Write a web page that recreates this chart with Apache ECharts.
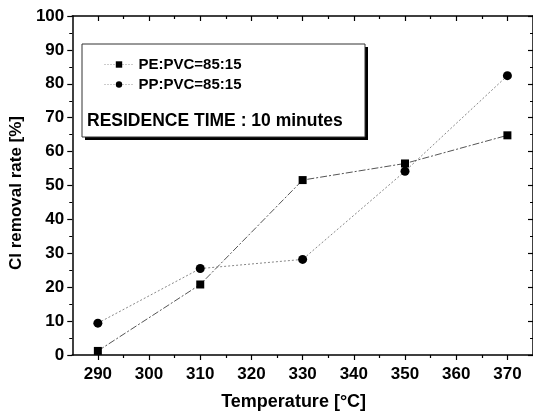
<!DOCTYPE html>
<html>
<head>
<meta charset="utf-8">
<script src="https://cdn.jsdelivr.net/npm/echarts@6/dist/echarts.min.js"></script>
<style>html,body{margin:0;padding:0;background:#fff;}#c{width:533px;height:416px;}</style>
</head>
<body>
<div id="c"></div>
<script>
var temperatures = [290, 310, 330, 350, 370];
var pePvc = [1.2, 20.8, 51.6, 56.5, 64.8];
var ppPvc = [9.4, 25.5, 28.2, 54.2, 82.4];
var xMajorTicks = [290, 300, 310, 320, 330, 340, 350, 360, 370];
var xMinorTicks = [295, 305, 315, 325, 335, 345, 355, 365];
var seriesNames = ['PE:PVC=85:15', 'PP:PVC=85:15'];
var noteText = 'RESIDENCE TIME : 10 minutes';

var FONT = 'Liberation Sans, Arial, sans-serif';
var chart = echarts.init(document.getElementById('c'));

function pairs(xs, ys) { return xs.map(function (x, i) { return [x, ys[i]]; }); }

var grid = { left: 71, top: 16, width: 464, height: 341 };
var lineBlack = { color: '#000', width: 1.5 };

function xAx(pos, ticks, len, inside, showLine, labels) {
  var a = {
    type: 'value', position: pos, min: 285, max: 375,
    axisLine: { show: showLine, onZero: false, lineStyle: lineBlack },
    axisTick: { show: true, customValues: ticks, length: len, inside: inside, lineStyle: { color: '#000', width: 1.2 } },
    axisLabel: { show: !!labels },
    splitLine: { show: false }
  };
  if (labels) {
    a.axisLabel = { show: true, customValues: xMajorTicks, fontFamily: FONT, fontWeight: 'bold', fontSize: 17, color: '#000', margin: 11 };
    a.name = 'Temperature [°C]';
    a.nameLocation = 'middle';
    a.nameGap = 38;
    a.nameTextStyle = { fontFamily: FONT, fontWeight: 'bold', fontSize: 18, color: '#000', padding: [0, 18, 0, 0] };
  }
  return a;
}

var option = {
  animation: false,
  backgroundColor: '#fff',
  grid: grid,
  xAxis: [
    xAx('bottom', xMajorTicks, 5, false, true, true),
    xAx('bottom', xMinorTicks, 3, false, false, false),
    xAx('top', xMajorTicks, 5, true, true, false),
    xAx('top', xMinorTicks, 3, true, false, false)
  ],
  yAxis: [
    {
      type: 'value', position: 'left', min: 0, max: 100, interval: 10,
      axisLine: { show: true, onZero: false, lineStyle: lineBlack },
      axisTick: { show: true, length: 5, inside: false, lineStyle: { color: '#000', width: 1.2 } },
      minorTick: { show: true, splitNumber: 2, length: 3, lineStyle: { color: '#000', width: 1 } },
      axisLabel: { fontFamily: FONT, fontWeight: 'bold', fontSize: 17, color: '#000', margin: 8 },
      splitLine: { show: false },
      name: 'Cl removal rate [%]', nameLocation: 'middle', nameGap: 34,
      nameTextStyle: { fontFamily: FONT, fontWeight: 'bold', fontSize: 17, color: '#000', padding: [0, 15, 0, 0] }
    },
    {
      type: 'value', position: 'right', min: 0, max: 100, interval: 10,
      axisLine: { show: true, onZero: false, lineStyle: lineBlack },
      axisTick: { show: true, length: 5, inside: true, lineStyle: { color: '#000', width: 1.2 } },
      minorTick: { show: true, splitNumber: 2, length: 3, lineStyle: { color: '#000', width: 1 } },
      axisLabel: { show: false },
      splitLine: { show: false }
    }
  ],
  legend: {
    orient: 'vertical', left: 99, top: 52, padding: 5, itemWidth: 29, itemHeight: 8, itemGap: 5,
    textStyle: { fontFamily: FONT, fontWeight: 'bold', fontSize: 15, color: '#000' },
    lineStyle: { color: '#999', width: 1, type: [1, 2] },
    data: seriesNames
  },
  graphic: [
    { type: 'rect', z: -1, shape: { x: 85, y: 47, width: 283, height: 93 }, style: { fill: '#000' } },
    { type: 'rect', z: 0, shape: { x: 82, y: 44, width: 283, height: 93 }, style: { fill: '#fff', stroke: '#333', lineWidth: 1 } },
    { type: 'text', z: 1, left: 87, top: 112, style: { text: noteText, font: 'bold 17.5px ' + FONT, fill: '#000' } }
  ],
  series: [
    {
      name: seriesNames[0], type: 'line', xAxisIndex: 0, yAxisIndex: 0,
      data: pairs(temperatures, pePvc),
      symbol: 'rect', symbolSize: 8,
      itemStyle: { color: '#000' },
      lineStyle: { color: '#555', width: 1, type: [7, 2, 2, 2] }
    },
    {
      name: seriesNames[1], type: 'line', xAxisIndex: 0, yAxisIndex: 0,
      data: pairs(temperatures, ppPvc),
      symbol: 'circle', symbolSize: 9,
      itemStyle: { color: '#000' },
      lineStyle: { color: '#888', width: 1, type: [2, 2] }
    }
  ]
};
chart.setOption(option);
</script>
</body>
</html>
